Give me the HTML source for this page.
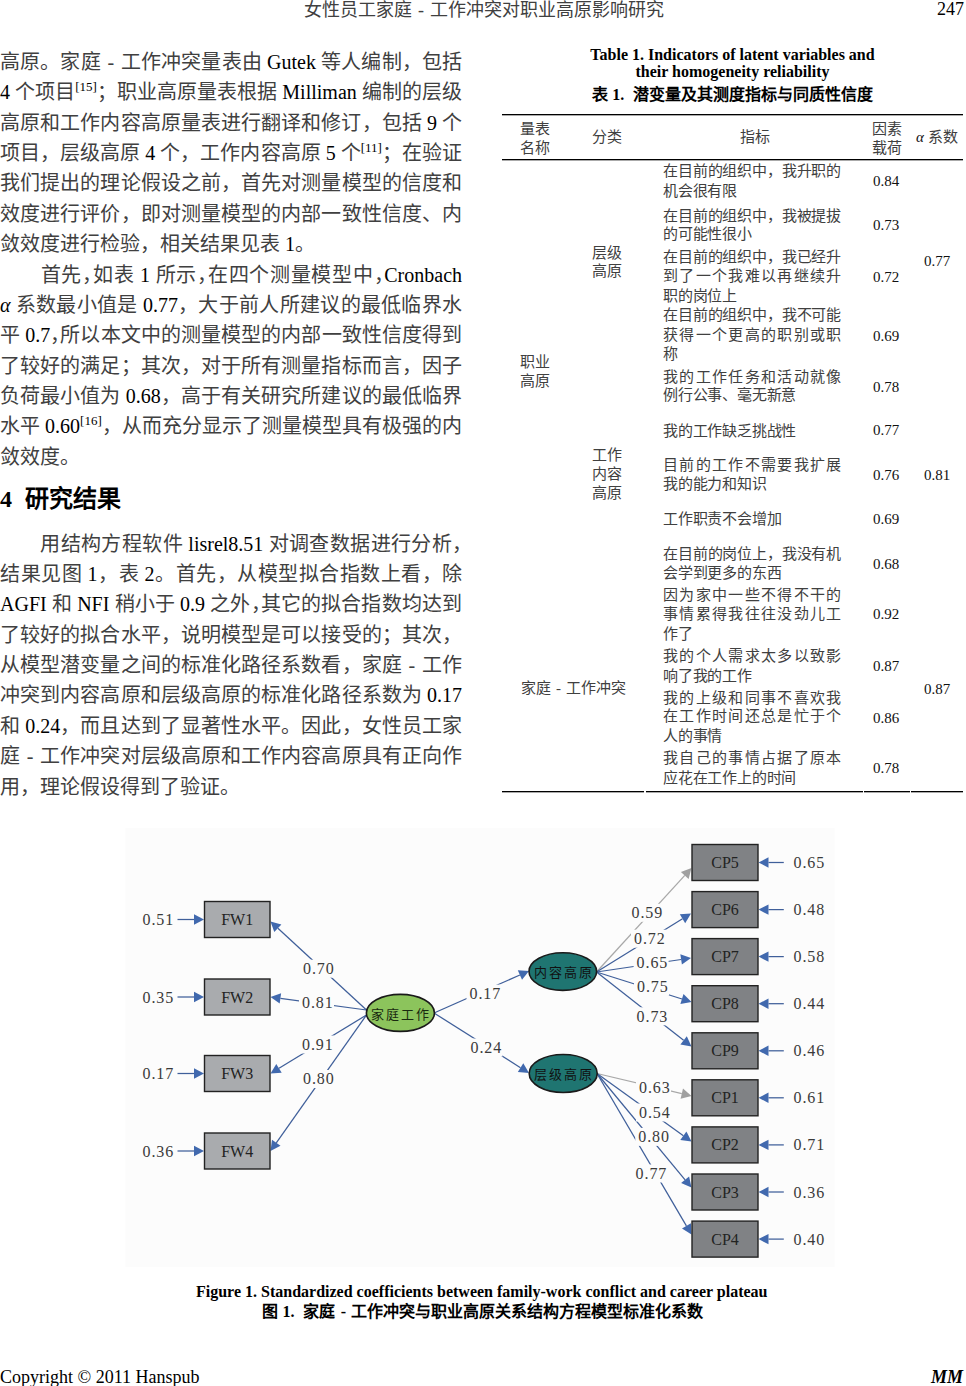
<!DOCTYPE html>
<html lang="zh-CN"><head><meta charset="utf-8">
<style>
html,body{margin:0;padding:0;background:#fff;}
body{width:966px;height:1386px;position:relative;overflow:hidden;font-family:'Liberation Serif', serif;color:#000;}
.a{position:absolute;white-space:nowrap;}
.en{color:#000;}
.hc{margin-right:-0.5em;}
.ln{color:#404040;position:absolute;left:0;width:462px;font-size:20px;line-height:20px;height:20px;text-align:justify;text-align-last:justify;white-space:nowrap;}
.ln.last{text-align-last:left;}
.ln sup{font-size:13px;line-height:0;vertical-align:0;position:relative;top:-8px;}
.tl{position:absolute;left:663px;width:178px;letter-spacing:-0.2px;font-size:15px;line-height:15px;height:15px;text-align:justify;text-align-last:justify;white-space:nowrap;color:#404040;}
.tl.last{text-align-last:left;}
.tc{position:absolute;font-size:15px;line-height:15px;height:15px;white-space:nowrap;color:#404040;}
.tc .en{color:#111;}
.hr{position:absolute;height:1px;background:#000;box-shadow:0 1px 0 #aaa;}
.bold{font-weight:bold;}
.d{display:inline-block;width:1em;text-align:center;text-align-last:center;font-family:'Liberation Serif', serif;}
.sf{font-family:'Liberation Serif', serif;}
</style></head><body>

<div class="a" style="left:304px;top:0.5px;font-size:18px;line-height:18px;color:#404040">女性员工家庭<span class="d">-</span>工作冲突对职业高原影响研究</div>
<div class="a" style="left:937px;top:-0.5px;font-size:18px;line-height:18px;">247</div>
<div class="ln" style="top:51.8px">高原。家庭<span class="d">-</span>工作冲突量表由 <span class="en">Gutek</span> 等人编制，包括</div>
<div class="ln" style="top:82.2px"><span class="en">4</span> 个项目<sup><span class="en">[15]</span></sup>；职业高原量表根据 <span class="en">Milliman</span> 编制的层级</div>
<div class="ln" style="top:112.6px">高原和工作内容高原量表进行翻译和修订，包括 <span class="en">9</span> 个</div>
<div class="ln" style="top:142.9px">项目，层级高原 <span class="en">4</span> 个，工作内容高原 <span class="en">5</span> 个<sup><span class="en">[11]</span></sup>；在验证</div>
<div class="ln" style="top:173.3px">我们提出的理论假设之前，首先对测量模型的信度和</div>
<div class="ln" style="top:203.7px">效度进行评价，即对测量模型的内部一致性信度、内</div>
<div class="ln last" style="top:234.1px">敛效度进行检验，相关结果见表 <span class="en">1</span>。</div>
<div class="ln" style="top:264.5px"><span style="display:inline-block;width:40px"></span>首先<span class="hc">，</span>如表 <span class="en">1</span> 所示<span class="hc">，</span>在四个测量模型中<span class="hc">，</span><span class="en">Cronbach</span></div>
<div class="ln" style="top:294.8px"><i><span class="en">α</span></i> 系数最小值是 <span class="en">0.77</span>，大于前人所建议的最低临界水</div>
<div class="ln" style="top:325.2px">平 <span class="en">0.7</span><span class="hc">，</span>所以本文中的测量模型的内部一致性信度得到</div>
<div class="ln" style="top:355.6px">了较好的满足；其次，对于所有测量指标而言，因子</div>
<div class="ln" style="top:386.0px">负荷最小值为 <span class="en">0.68</span>，高于有关研究所建议的最低临界</div>
<div class="ln" style="top:416.4px">水平 <span class="en">0.60</span><sup><span class="en">[16]</span></sup>，从而充分显示了测量模型具有极强的内</div>
<div class="ln last" style="top:446.7px">敛效度。</div>
<div class="ln" style="top:533.6px"><span style="display:inline-block;width:40px"></span>用结构方程软件 <span class="en">lisrel8.51</span> 对调查数据进行分析<span class="hc">，</span></div>
<div class="ln" style="top:564.0px">结果见图 <span class="en">1</span>，表 <span class="en">2</span>。首先，从模型拟合指数上看，除</div>
<div class="ln" style="top:594.3px"><span class="en">AGFI</span> 和 <span class="en">NFI</span> 稍小于 <span class="en">0.9</span> 之外<span class="hc">，</span>其它的拟合指数均达到</div>
<div class="ln" style="top:624.7px">了较好的拟合水平，说明模型是可以接受的；其次，</div>
<div class="ln" style="top:655.0px">从模型潜变量之间的标准化路径系数看，家庭<span class="d">-</span>工作</div>
<div class="ln" style="top:685.4px">冲突到内容高原和层级高原的标准化路径系数为 <span class="en">0.17</span></div>
<div class="ln" style="top:715.8px">和 <span class="en">0.24</span>，而且达到了显著性水平。因此，女性员工家</div>
<div class="ln" style="top:746.1px">庭<span class="d">-</span>工作冲突对层级高原和工作内容高原具有正向作</div>
<div class="ln last" style="top:776.5px">用，理论假设得到了验证。</div>
<div class="a bold" style="left:0;top:487px;font-size:24px;line-height:24px;font-family:'Liberation Sans', sans-serif"><span class="sf">4</span>&nbsp;&nbsp;<span style="margin-left:0px">研究结果</span></div>
<div class="a bold" style="left:502px;width:461px;text-align:center;top:46px;font-size:16px;line-height:17px;">Table 1. Indicators of latent variables and<br>their homogeneity reliability</div>
<div class="a bold" style="left:502px;width:461px;text-align:center;top:85.5px;font-size:16px;line-height:18px;font-family:'Liberation Sans', sans-serif">表 <span class="sf">1.</span>&nbsp;&nbsp;潜变量及其测度指标与同质性信度</div>
<div class="hr" style="left:502px;top:114px;width:461px;"></div>
<div class="hr" style="left:502px;top:159px;width:461px;"></div>
<div class="hr" style="left:502px;top:791px;width:142px;"></div>
<div class="hr" style="left:646px;top:791px;width:217px;"></div>
<div class="hr" style="left:864px;top:791px;width:46px;"></div>
<div class="hr" style="left:911px;top:791px;width:52px;"></div>
<div class="tc" style="left:520px;top:121.5px">量表</div>
<div class="tc" style="left:520px;top:140.5px">名称</div>
<div class="tc" style="left:592px;top:130.0px">分类</div>
<div class="tc" style="left:740px;top:130.0px">指标</div>
<div class="tc" style="left:872px;top:121.5px">因素</div>
<div class="tc" style="left:872px;top:140.5px">载荷</div>
<div class="tc" style="left:916px;top:130.0px"><i><span class="en">α</span></i> 系数</div>
<div class="tl" style="top:164.2px">在目前的组织中，我升职的</div>
<div class="tl last" style="top:183.7px">机会很有限</div>
<div class="tc" style="left:873px;top:174.4px"><span class="en">0.84</span></div>
<div class="tl" style="top:208.6px">在目前的组织中，我被提拔</div>
<div class="tl last" style="top:227.0px">的可能性很小</div>
<div class="tc" style="left:873px;top:218.4px"><span class="en">0.73</span></div>
<div class="tl" style="top:249.7px">在目前的组织中，我已经升</div>
<div class="tl" style="top:269.2px">到了一个我难以再继续升</div>
<div class="tl last" style="top:288.7px">职的岗位上</div>
<div class="tc" style="left:873px;top:270.3px"><span class="en">0.72</span></div>
<div class="tl" style="top:308.2px">在目前的组织中，我不可能</div>
<div class="tl" style="top:327.6px">获得一个更高的职别或职</div>
<div class="tl last" style="top:347.0px">称</div>
<div class="tc" style="left:873px;top:328.8px"><span class="en">0.69</span></div>
<div class="tl" style="top:369.9px">我的工作任务和活动就像</div>
<div class="tl last" style="top:388.3px">例行公事、毫无新意</div>
<div class="tc" style="left:873px;top:379.6px"><span class="en">0.78</span></div>
<div class="tl last" style="top:424.0px">我的工作缺乏挑战性</div>
<div class="tc" style="left:873px;top:423.0px"><span class="en">0.77</span></div>
<div class="tl" style="top:457.7px">目前的工作不需要我扩展</div>
<div class="tl last" style="top:477.4px">我的能力和知识</div>
<div class="tc" style="left:873px;top:468.4px"><span class="en">0.76</span></div>
<div class="tl last" style="top:512.2px">工作职责不会增加</div>
<div class="tc" style="left:873px;top:512.0px"><span class="en">0.69</span></div>
<div class="tl" style="top:547.3px">在目前的岗位上，我没有机</div>
<div class="tl last" style="top:565.7px">会学到更多的东西</div>
<div class="tc" style="left:873px;top:556.7px"><span class="en">0.68</span></div>
<div class="tl" style="top:587.8px">因为家中一些不得不干的</div>
<div class="tl" style="top:607.4px">事情累得我往往没劲儿工</div>
<div class="tl last" style="top:627.0px">作了</div>
<div class="tc" style="left:873px;top:607.0px"><span class="en">0.92</span></div>
<div class="tl" style="top:649.0px">我的个人需求太多以致影</div>
<div class="tl last" style="top:668.8px">响了我的工作</div>
<div class="tc" style="left:873px;top:659.0px"><span class="en">0.87</span></div>
<div class="tl" style="top:690.9px">我的上级和同事不喜欢我</div>
<div class="tl" style="top:709.3px">在工作时间还总是忙于个</div>
<div class="tl last" style="top:728.9px">人的事情</div>
<div class="tc" style="left:873px;top:710.8px"><span class="en">0.86</span></div>
<div class="tl" style="top:751.0px">我自己的事情占据了原本</div>
<div class="tl last" style="top:770.6px">应花在工作上的时间</div>
<div class="tc" style="left:873px;top:761.0px"><span class="en">0.78</span></div>
<div class="tc" style="left:924px;top:254.0px"><span class="en">0.77</span></div>
<div class="tc" style="left:924px;top:468.4px"><span class="en">0.81</span></div>
<div class="tc" style="left:924px;top:681.7px"><span class="en">0.87</span></div>
<div class="tc" style="left:592px;top:245.5px">层级</div>
<div class="tc" style="left:592px;top:264.0px">高原</div>
<div class="tc" style="left:520px;top:355.0px">职业</div>
<div class="tc" style="left:520px;top:374.3px">高原</div>
<div class="tc" style="left:592px;top:448.0px">工作</div>
<div class="tc" style="left:592px;top:467.3px">内容</div>
<div class="tc" style="left:592px;top:486.0px">高原</div>
<div class="tc" style="left:521px;top:681.0px">家庭<span class="d">-</span>工作冲突</div>
<svg class="a" style="left:0;top:0" width="966" height="1386" viewBox="0 0 966 1386">
<rect x="125.5" y="828" width="709" height="439" fill="#fcfcfc"/>
<line x1="177.5" y1="919.5" x2="194.0" y2="919.5" stroke="#3f5f9a" stroke-width="1.25"/>
<polygon points="204.0,919.5 194.0,924.7 194.0,914.3" fill="#4169ae"/>
<line x1="177.5" y1="997.0" x2="194.0" y2="997.0" stroke="#3f5f9a" stroke-width="1.25"/>
<polygon points="204.0,997.0 194.0,1002.2 194.0,991.8" fill="#4169ae"/>
<line x1="177.5" y1="1073.5" x2="194.0" y2="1073.5" stroke="#3f5f9a" stroke-width="1.25"/>
<polygon points="204.0,1073.5 194.0,1078.7 194.0,1068.3" fill="#4169ae"/>
<line x1="177.5" y1="1151.0" x2="194.0" y2="1151.0" stroke="#3f5f9a" stroke-width="1.25"/>
<polygon points="204.0,1151.0 194.0,1156.2 194.0,1145.8" fill="#4169ae"/>
<line x1="366.5" y1="1010.0" x2="277.9" y2="928.3" stroke="#3f5f9a" stroke-width="1.25"/>
<polygon points="270.5,921.5 281.4,924.5 274.3,932.1" fill="#4169ae"/>
<line x1="366.5" y1="1010.0" x2="280.4" y2="998.3" stroke="#3f5f9a" stroke-width="1.25"/>
<polygon points="270.5,997.0 281.1,993.2 279.7,1003.5" fill="#4169ae"/>
<line x1="366.5" y1="1015.0" x2="279.0" y2="1068.3" stroke="#3f5f9a" stroke-width="1.25"/>
<polygon points="270.5,1073.5 276.3,1063.9 281.7,1072.7" fill="#4169ae"/>
<line x1="366.5" y1="1015.0" x2="276.3" y2="1142.8" stroke="#3f5f9a" stroke-width="1.25"/>
<polygon points="270.5,1151.0 272.0,1139.8 280.5,1145.8" fill="#4169ae"/>
<rect x="204.5" y="901.5" width="65.5" height="36" fill="#a9abae" stroke="#222" stroke-width="1.4"/>
<text x="237.2" y="925.0" text-anchor="middle" font-family="Liberation Serif" font-size="16" fill="#222">FW1</text>
<text x="142.5" y="925.0" font-family="Liberation Serif" font-size="16" letter-spacing="0.9" fill="#3a3a3a">0.51</text>
<rect x="204.5" y="979" width="65.5" height="36" fill="#a9abae" stroke="#222" stroke-width="1.4"/>
<text x="237.2" y="1002.5" text-anchor="middle" font-family="Liberation Serif" font-size="16" fill="#222">FW2</text>
<text x="142.5" y="1002.5" font-family="Liberation Serif" font-size="16" letter-spacing="0.9" fill="#3a3a3a">0.35</text>
<rect x="204.5" y="1055.5" width="65.5" height="36" fill="#a9abae" stroke="#222" stroke-width="1.4"/>
<text x="237.2" y="1079.0" text-anchor="middle" font-family="Liberation Serif" font-size="16" fill="#222">FW3</text>
<text x="142.5" y="1079.0" font-family="Liberation Serif" font-size="16" letter-spacing="0.9" fill="#3a3a3a">0.17</text>
<rect x="204.5" y="1133" width="65.5" height="36" fill="#a9abae" stroke="#222" stroke-width="1.4"/>
<text x="237.2" y="1156.5" text-anchor="middle" font-family="Liberation Serif" font-size="16" fill="#222">FW4</text>
<text x="142.5" y="1156.5" font-family="Liberation Serif" font-size="16" letter-spacing="0.9" fill="#3a3a3a">0.36</text>
<line x1="434.0" y1="1013.0" x2="519.9" y2="975.0" stroke="#3f5f9a" stroke-width="1.25"/>
<polygon points="529.0,971.0 522.0,979.8 517.8,970.3" fill="#4169ae"/>
<line x1="434.0" y1="1013.0" x2="520.5" y2="1067.7" stroke="#3f5f9a" stroke-width="1.25"/>
<polygon points="529.0,1073.0 517.8,1072.1 523.3,1063.3" fill="#4169ae"/>
<rect x="466.5" y="984.6" width="35" height="18" fill="#fcfcfc"/>
<text x="469.5" y="998.9" font-family="Liberation Serif" font-size="16" letter-spacing="0.9" fill="#3a3a3a">0.17</text>
<rect x="467.5" y="1038.5" width="35" height="18" fill="#fcfcfc"/>
<text x="470.5" y="1052.8" font-family="Liberation Serif" font-size="16" letter-spacing="0.9" fill="#3a3a3a">0.24</text>
<line x1="596.5" y1="972.0" x2="684.8" y2="875.4" stroke="#a8a8a8" stroke-width="1.25"/>
<polygon points="691.5,868.0 688.6,878.9 680.9,871.9" fill="#a0a0a0"/>
<line x1="596.5" y1="972.0" x2="682.5" y2="918.8" stroke="#3f5f9a" stroke-width="1.25"/>
<polygon points="691.0,913.5 685.2,923.2 679.8,914.3" fill="#4169ae"/>
<line x1="596.5" y1="972.0" x2="681.1" y2="959.5" stroke="#3f5f9a" stroke-width="1.25"/>
<polygon points="691.0,958.0 681.9,964.6 680.3,954.3" fill="#4169ae"/>
<line x1="596.5" y1="972.0" x2="682.0" y2="999.0" stroke="#3f5f9a" stroke-width="1.25"/>
<polygon points="691.5,1002.0 680.4,1003.9 683.5,994.0" fill="#4169ae"/>
<line x1="596.5" y1="972.0" x2="683.6" y2="1040.3" stroke="#3f5f9a" stroke-width="1.25"/>
<polygon points="691.5,1046.5 680.4,1044.4 686.8,1036.2" fill="#4169ae"/>
<line x1="597.0" y1="1073.5" x2="681.8" y2="1093.7" stroke="#a8a8a8" stroke-width="1.25"/>
<polygon points="691.5,1096.0 680.6,1098.7 683.0,1088.6" fill="#a0a0a0"/>
<line x1="597.0" y1="1073.5" x2="683.4" y2="1135.7" stroke="#3f5f9a" stroke-width="1.25"/>
<polygon points="691.5,1141.5 680.3,1139.9 686.4,1131.4" fill="#4169ae"/>
<line x1="597.0" y1="1073.5" x2="685.1" y2="1179.8" stroke="#3f5f9a" stroke-width="1.25"/>
<polygon points="691.5,1187.5 681.1,1183.1 689.1,1176.5" fill="#4169ae"/>
<line x1="597.0" y1="1073.5" x2="686.4" y2="1225.9" stroke="#3f5f9a" stroke-width="1.25"/>
<polygon points="691.5,1234.5 682.0,1228.5 690.9,1223.2" fill="#4169ae"/>
<rect x="300" y="959.7" width="35" height="18" fill="#fcfcfc"/>
<text x="303" y="974.0" font-family="Liberation Serif" font-size="16" letter-spacing="0.9" fill="#3a3a3a">0.70</text>
<rect x="299" y="993.3" width="35" height="18" fill="#fcfcfc"/>
<text x="302" y="1007.6" font-family="Liberation Serif" font-size="16" letter-spacing="0.9" fill="#3a3a3a">0.81</text>
<rect x="299" y="1035.5" width="35" height="18" fill="#fcfcfc"/>
<text x="302" y="1049.8" font-family="Liberation Serif" font-size="16" letter-spacing="0.9" fill="#3a3a3a">0.91</text>
<rect x="300" y="1070" width="35" height="18" fill="#fcfcfc"/>
<text x="303" y="1084.3" font-family="Liberation Serif" font-size="16" letter-spacing="0.9" fill="#3a3a3a">0.80</text>
<rect x="628.5" y="903.8" width="35" height="18" fill="#fcfcfc"/>
<text x="631.5" y="918.1" font-family="Liberation Serif" font-size="16" letter-spacing="0.9" fill="#3a3a3a">0.59</text>
<rect x="631" y="929.7" width="35" height="18" fill="#fcfcfc"/>
<text x="634" y="944.0" font-family="Liberation Serif" font-size="16" letter-spacing="0.9" fill="#3a3a3a">0.72</text>
<rect x="633.6" y="953.5" width="35" height="18" fill="#fcfcfc"/>
<text x="636.6" y="967.8" font-family="Liberation Serif" font-size="16" letter-spacing="0.9" fill="#3a3a3a">0.65</text>
<rect x="634" y="977.7" width="35" height="18" fill="#fcfcfc"/>
<text x="637" y="992.0" font-family="Liberation Serif" font-size="16" letter-spacing="0.9" fill="#3a3a3a">0.75</text>
<rect x="633.6" y="1007.3" width="35" height="18" fill="#fcfcfc"/>
<text x="636.6" y="1021.6" font-family="Liberation Serif" font-size="16" letter-spacing="0.9" fill="#3a3a3a">0.73</text>
<rect x="636" y="1078.2" width="35" height="18" fill="#fcfcfc"/>
<text x="639" y="1092.5" font-family="Liberation Serif" font-size="16" letter-spacing="0.9" fill="#3a3a3a">0.63</text>
<rect x="636" y="1103.5" width="35" height="18" fill="#fcfcfc"/>
<text x="639" y="1117.8" font-family="Liberation Serif" font-size="16" letter-spacing="0.9" fill="#3a3a3a">0.54</text>
<rect x="635.3" y="1127.9" width="35" height="18" fill="#fcfcfc"/>
<text x="638.3" y="1142.2" font-family="Liberation Serif" font-size="16" letter-spacing="0.9" fill="#3a3a3a">0.80</text>
<rect x="632.6" y="1164.5" width="35" height="18" fill="#fcfcfc"/>
<text x="635.6" y="1178.8" font-family="Liberation Serif" font-size="16" letter-spacing="0.9" fill="#3a3a3a">0.77</text>
<line x1="783.8" y1="862.5" x2="768.5" y2="862.5" stroke="#3f5f9a" stroke-width="1.25"/>
<polygon points="758.5,862.5 768.5,857.3 768.5,867.7" fill="#4169ae"/>
<rect x="692" y="844.5" width="66" height="36" fill="#808285" stroke="#222" stroke-width="1.4"/>
<text x="725" y="868.0" text-anchor="middle" font-family="Liberation Serif" font-size="16" fill="#222">CP5</text>
<text x="793.5" y="868.0" font-family="Liberation Serif" font-size="16" letter-spacing="0.9" fill="#3a3a3a">0.65</text>
<line x1="783.8" y1="909.6" x2="768.5" y2="909.6" stroke="#3f5f9a" stroke-width="1.25"/>
<polygon points="758.5,909.6 768.5,904.4 768.5,914.8" fill="#4169ae"/>
<rect x="692" y="891.6" width="66" height="36" fill="#808285" stroke="#222" stroke-width="1.4"/>
<text x="725" y="915.1" text-anchor="middle" font-family="Liberation Serif" font-size="16" fill="#222">CP6</text>
<text x="793.5" y="915.1" font-family="Liberation Serif" font-size="16" letter-spacing="0.9" fill="#3a3a3a">0.48</text>
<line x1="783.8" y1="956.6" x2="768.5" y2="956.6" stroke="#3f5f9a" stroke-width="1.25"/>
<polygon points="758.5,956.6 768.5,951.4 768.5,961.8" fill="#4169ae"/>
<rect x="692" y="938.6" width="66" height="36" fill="#808285" stroke="#222" stroke-width="1.4"/>
<text x="725" y="962.1" text-anchor="middle" font-family="Liberation Serif" font-size="16" fill="#222">CP7</text>
<text x="793.5" y="962.1" font-family="Liberation Serif" font-size="16" letter-spacing="0.9" fill="#3a3a3a">0.58</text>
<line x1="783.8" y1="1003.7" x2="768.5" y2="1003.7" stroke="#3f5f9a" stroke-width="1.25"/>
<polygon points="758.5,1003.7 768.5,998.5 768.5,1008.9" fill="#4169ae"/>
<rect x="692" y="985.7" width="66" height="36" fill="#808285" stroke="#222" stroke-width="1.4"/>
<text x="725" y="1009.2" text-anchor="middle" font-family="Liberation Serif" font-size="16" fill="#222">CP8</text>
<text x="793.5" y="1009.2" font-family="Liberation Serif" font-size="16" letter-spacing="0.9" fill="#3a3a3a">0.44</text>
<line x1="783.8" y1="1050.8" x2="768.5" y2="1050.8" stroke="#3f5f9a" stroke-width="1.25"/>
<polygon points="758.5,1050.8 768.5,1045.6 768.5,1056.0" fill="#4169ae"/>
<rect x="692" y="1032.8" width="66" height="36" fill="#808285" stroke="#222" stroke-width="1.4"/>
<text x="725" y="1056.3" text-anchor="middle" font-family="Liberation Serif" font-size="16" fill="#222">CP9</text>
<text x="793.5" y="1056.3" font-family="Liberation Serif" font-size="16" letter-spacing="0.9" fill="#3a3a3a">0.46</text>
<line x1="783.8" y1="1097.8" x2="768.5" y2="1097.8" stroke="#3f5f9a" stroke-width="1.25"/>
<polygon points="758.5,1097.8 768.5,1092.6 768.5,1103.0" fill="#4169ae"/>
<rect x="692" y="1079.8" width="66" height="36" fill="#808285" stroke="#222" stroke-width="1.4"/>
<text x="725" y="1103.3" text-anchor="middle" font-family="Liberation Serif" font-size="16" fill="#222">CP1</text>
<text x="793.5" y="1103.3" font-family="Liberation Serif" font-size="16" letter-spacing="0.9" fill="#3a3a3a">0.61</text>
<line x1="783.8" y1="1144.9" x2="768.5" y2="1144.9" stroke="#3f5f9a" stroke-width="1.25"/>
<polygon points="758.5,1144.9 768.5,1139.7 768.5,1150.1" fill="#4169ae"/>
<rect x="692" y="1126.9" width="66" height="36" fill="#808285" stroke="#222" stroke-width="1.4"/>
<text x="725" y="1150.4" text-anchor="middle" font-family="Liberation Serif" font-size="16" fill="#222">CP2</text>
<text x="793.5" y="1150.4" font-family="Liberation Serif" font-size="16" letter-spacing="0.9" fill="#3a3a3a">0.71</text>
<line x1="783.8" y1="1192.0" x2="768.5" y2="1192.0" stroke="#3f5f9a" stroke-width="1.25"/>
<polygon points="758.5,1192.0 768.5,1186.8 768.5,1197.2" fill="#4169ae"/>
<rect x="692" y="1174.0" width="66" height="36" fill="#808285" stroke="#222" stroke-width="1.4"/>
<text x="725" y="1197.5" text-anchor="middle" font-family="Liberation Serif" font-size="16" fill="#222">CP3</text>
<text x="793.5" y="1197.5" font-family="Liberation Serif" font-size="16" letter-spacing="0.9" fill="#3a3a3a">0.36</text>
<line x1="783.8" y1="1239.1" x2="768.5" y2="1239.1" stroke="#3f5f9a" stroke-width="1.25"/>
<polygon points="758.5,1239.1 768.5,1233.9 768.5,1244.3" fill="#4169ae"/>
<rect x="692" y="1221.1" width="66" height="36" fill="#808285" stroke="#222" stroke-width="1.4"/>
<text x="725" y="1244.6" text-anchor="middle" font-family="Liberation Serif" font-size="16" fill="#222">CP4</text>
<text x="793.5" y="1244.6" font-family="Liberation Serif" font-size="16" letter-spacing="0.9" fill="#3a3a3a">0.40</text>
<ellipse cx="400.4" cy="1012.9" rx="34" ry="18.5" fill="#8cc45c" stroke="#1a1a1a" stroke-width="1.6"/>
<text x="401.4" y="1018.5" text-anchor="middle" font-size="13" fill="#1a2a10" letter-spacing="2">家庭工作</text>
<ellipse cx="562.8" cy="971.6" rx="33.8" ry="18.8" fill="#1f7571" stroke="#1a1a1a" stroke-width="1.6"/>
<text x="563.8" y="976.8" text-anchor="middle" font-size="13" fill="#111" letter-spacing="2">内容高原</text>
<ellipse cx="563.2" cy="1073.5" rx="34" ry="19" fill="#1f7571" stroke="#1a1a1a" stroke-width="1.6"/>
<text x="564.2" y="1078.8" text-anchor="middle" font-size="13" fill="#111" letter-spacing="2">层级高原</text>
</svg>
<div class="a bold" style="left:196px;top:1283px;font-size:16px;line-height:17px;">Figure 1. Standardized coefficients between family-work conflict and career plateau</div>
<div class="a bold" style="left:262px;top:1303px;font-size:16px;line-height:18px;font-family:'Liberation Sans', sans-serif">图 <span class="sf">1.</span>&nbsp;&nbsp;家庭<span class="d">-</span>工作冲突与职业高原关系结构方程模型标准化系数</div>
<div class="a" style="left:0;top:1367px;font-size:18px;line-height:20px;">Copyright © 2011 Hanspub</div>
<div class="a" style="left:931px;top:1367px;font-size:18px;line-height:20px;font-weight:bold;font-style:italic">MM</div>
<script>
(function(){
  var els=document.querySelectorAll('.ln,.tl');
  for(var i=0;i<els.length;i++){
    var e=els[i]; var W=e.clientWidth;
    var r=document.createRange(); r.selectNodeContents(e);
    var saveW=e.style.width; e.style.width='auto'; e.style.display='inline-block';
    var nat=e.getBoundingClientRect().width;
    e.style.width=saveW; e.style.display='';
    if(nat>W+0.5){
      var n=e.textContent.length;
      e.style.letterSpacing=((W-nat)/Math.max(1,n-1))+'px';
    }
  }
})();
</script>
</body></html>
